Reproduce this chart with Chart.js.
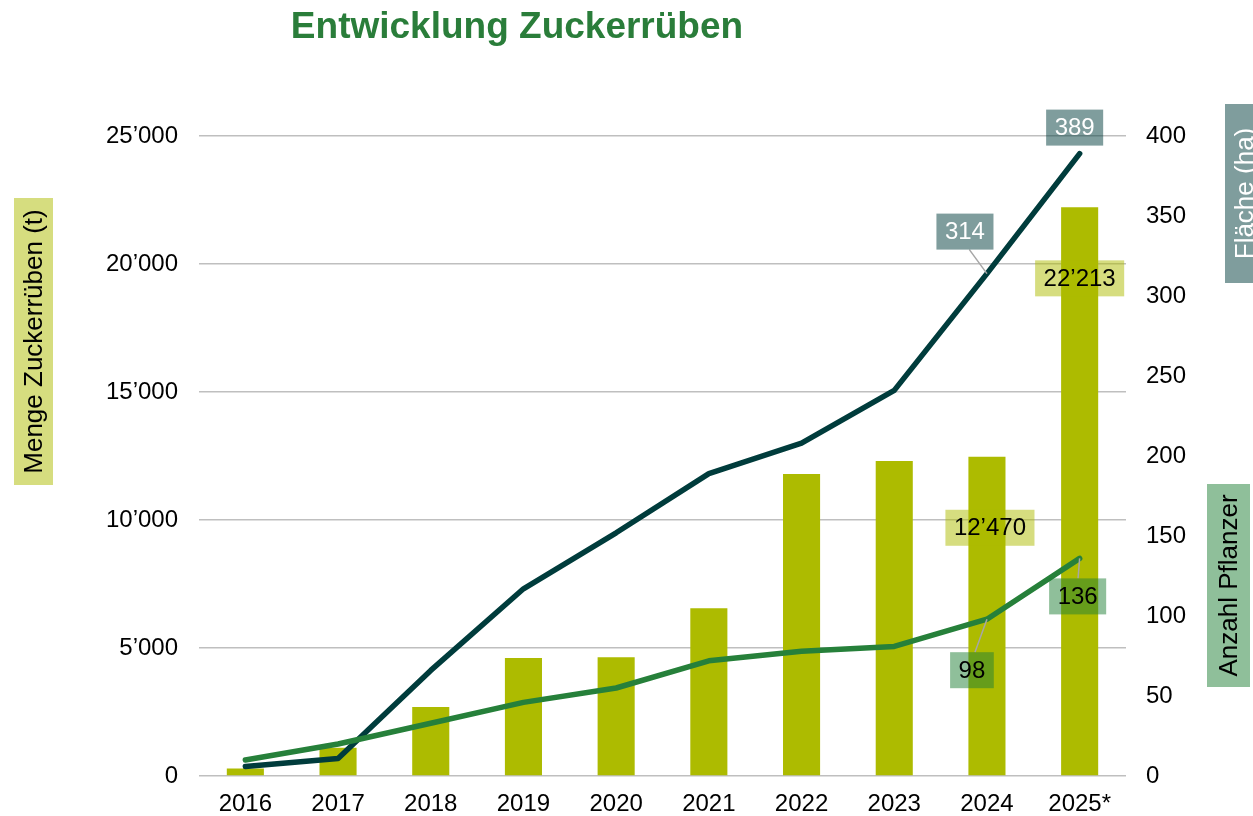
<!DOCTYPE html>
<html>
<head>
<meta charset="utf-8">
<script src="https://cdn.jsdelivr.net/npm/chart.js@4/dist/chart.umd.min.js"></script>
<style>
  html, body { margin: 0; padding: 0; background: #fff; }
  #wrap { width: 1253px; height: 816px; }
</style>
</head>
<body>
<div id="wrap"><canvas id="canvas" width="1253" height="816"></canvas></div>
<script>
/* Data. */
const years = ["2016", "2017", "2018", "2019", "2020", "2021", "2022", "2023", "2024", "2025*"]
const mengeTonnen = [290, 1100, 2700, 4610, 4640, 6550, 11800, 12300, 12470, 22213]
const flaecheHa = [6, 11, 66, 117, 152, 189, 208, 241, 314, 389]
const anzahlPflanzer = [10, 20, 33, 46, 55, 72, 78, 81, 98, 136]

/* Colours. */
const barColor = "#adbb00"
const flaecheColor = "#003c3c"
const pflanzerColor = "#26803a"
const barBox = "rgba(173, 187, 0, 0.5)"
const flaecheBox = "rgba(0, 60, 60, 0.5)"
const pflanzerBox = "rgba(31, 127, 53, 0.5)"

const fontFamily = "'Liberation Sans', Arial, Helvetica, sans-serif"

/* Swiss thousands separator. */
const formatNumber = value => {
  const s = Math.round(value).toString()
  return s.replace(/\B(?=(\d{3})+(?!\d))/g, "\u2019")
}

/* Which values get a label box, and where the box sits relative to its mark. */
const valueLabels = [
  { dataset: 0, index: 9, dx: 0, dy: 71, bg: barBox, color: "#000", leader: false },
  { dataset: 0, index: 8, dx: 3, dy: 71, bg: barBox, color: "#000", leader: false },
  { dataset: 1, index: 9, dx: -5, dy: -26, bg: flaecheBox, color: "#fff", leader: false },
  { dataset: 1, index: 8, dx: -22, dy: -42, bg: flaecheBox, color: "#fff", leader: true },
  { dataset: 2, index: 8, dx: -15, dy: 51, bg: pflanzerBox, color: "#000", leader: true },
  { dataset: 2, index: 9, dx: -2, dy: 38, bg: pflanzerBox, color: "#000", leader: true }
]

/* Rotated axis titles with a coloured box behind them. */
const drawVerticalBox = (ctx, cx, cy, w, h, bg, text, color) => {
  ctx.save()
  ctx.fillStyle = bg
  ctx.fillRect(cx - w / 2, cy - h / 2, w, h)
  ctx.translate(cx, cy)
  ctx.rotate(-Math.PI / 2)
  ctx.font = "26px " + fontFamily
  ctx.textAlign = "center"
  ctx.textBaseline = "middle"
  ctx.fillStyle = color
  ctx.fillText(text, 0, 1)
  ctx.restore()
}

const decorations = {
  id: "decorations",
  afterDatasetsDraw(chart) {
    const ctx = chart.ctx
    ctx.save()
    ctx.font = "24px " + fontFamily
    ctx.textAlign = "center"
    ctx.textBaseline = "middle"

    valueLabels.forEach(label => {
      const ds = chart.data.datasets[label.dataset]
      const el = chart.getDatasetMeta(label.dataset).data[label.index]
      const value = ds.data[label.index]
      const text = formatNumber(value)
      const w = ctx.measureText(text).width + 17
      const h = 36
      const cx = el.x + label.dx
      const cy = el.y + label.dy

      if (label.leader) {
        const edgeY = label.dy < 0 ? cy + h / 2 : cy - h / 2
        ctx.strokeStyle = "#a6a6a6"
        ctx.lineWidth = 1.5
        ctx.beginPath()
        ctx.moveTo(el.x, el.y)
        ctx.lineTo(cx + (el.x - cx) * 0.2, edgeY)
        ctx.stroke()
      }

      ctx.fillStyle = label.bg
      ctx.fillRect(cx - w / 2, cy - h / 2, w, h)
      ctx.fillStyle = label.color
      ctx.fillText(text, cx, cy + 1)
    })
    ctx.restore()
  },
  afterDraw(chart) {
    const ctx = chart.ctx
    ctx.save()
    ctx.font = "bold 37px " + fontFamily
    ctx.fillStyle = "#2a7d3a"
    ctx.textAlign = "center"
    ctx.textBaseline = "middle"
    ctx.fillText("Entwicklung Zuckerrüben", 517, 28)
    ctx.restore()

    drawVerticalBox(ctx, 33.5, 341.5, 39, 287, barBox, "Menge Zuckerrüben (t)", "#000")
    drawVerticalBox(ctx, 1244.5, 193.5, 39, 179, flaecheBox, "Fläche (ha)", "#fff")
    drawVerticalBox(ctx, 1228.5, 585.5, 43, 203, pflanzerBox, "Anzahl Pflanzer", "#000")
  }
}

Chart.defaults.font.family = fontFamily
Chart.defaults.color = "#000"

const ctx = document.getElementById("canvas").getContext("2d")
const chart = new Chart(ctx, {
  type: "bar",
  data: {
    labels: years,
    datasets: [{
      label: "Menge Zuckerrüben (t)",
      data: mengeTonnen,
      backgroundColor: barColor,
      borderWidth: 0,
      barPercentage: 0.4,
      categoryPercentage: 1.0,
      yAxisID: "y",
      order: 3
    }, {
      type: "line",
      label: "Fläche (ha)",
      data: flaecheHa,
      borderColor: flaecheColor,
      borderWidth: 5.5,
      borderCapStyle: "round",
      borderJoinStyle: "round",
      pointRadius: 0,
      tension: 0,
      yAxisID: "y1",
      order: 2
    }, {
      type: "line",
      label: "Anzahl Pflanzer",
      data: anzahlPflanzer,
      borderColor: pflanzerColor,
      borderWidth: 5.5,
      borderCapStyle: "round",
      borderJoinStyle: "round",
      pointRadius: 0,
      tension: 0,
      yAxisID: "y1",
      order: 1
    }]
  },
  options: {
    responsive: false,
    animation: false,
    layout: {
      padding: { top: 136, left: 0, right: 0, bottom: 0 }
    },
    plugins: {
      legend: { display: false },
      title: { display: false },
      tooltip: { enabled: false }
    },
    scales: {
      x: {
        grid: { display: false, drawTicks: false },
        border: { display: false },
        ticks: { font: { size: 24 }, padding: 14, color: "#000" },
        afterFit: scale => { scale.height = 40 }
      },
      y: {
        position: "left",
        min: 0,
        max: 25000,
        ticks: {
          stepSize: 5000,
          font: { size: 24 },
          padding: 21,
          color: "#000",
          callback: value => formatNumber(value)
        },
        grid: { color: "#bfbfbf", lineWidth: 1.5, drawTicks: false },
        border: { display: false },
        afterFit: scale => { scale.width = 199 }
      },
      y1: {
        position: "right",
        min: 0,
        max: 400,
        ticks: {
          stepSize: 50,
          font: { size: 24 },
          padding: 20,
          color: "#000"
        },
        grid: { display: false, drawTicks: false },
        border: { display: false },
        afterFit: scale => { scale.width = 127 }
      }
    }
  },
  plugins: [decorations]
})
</script>
</body>
</html>
